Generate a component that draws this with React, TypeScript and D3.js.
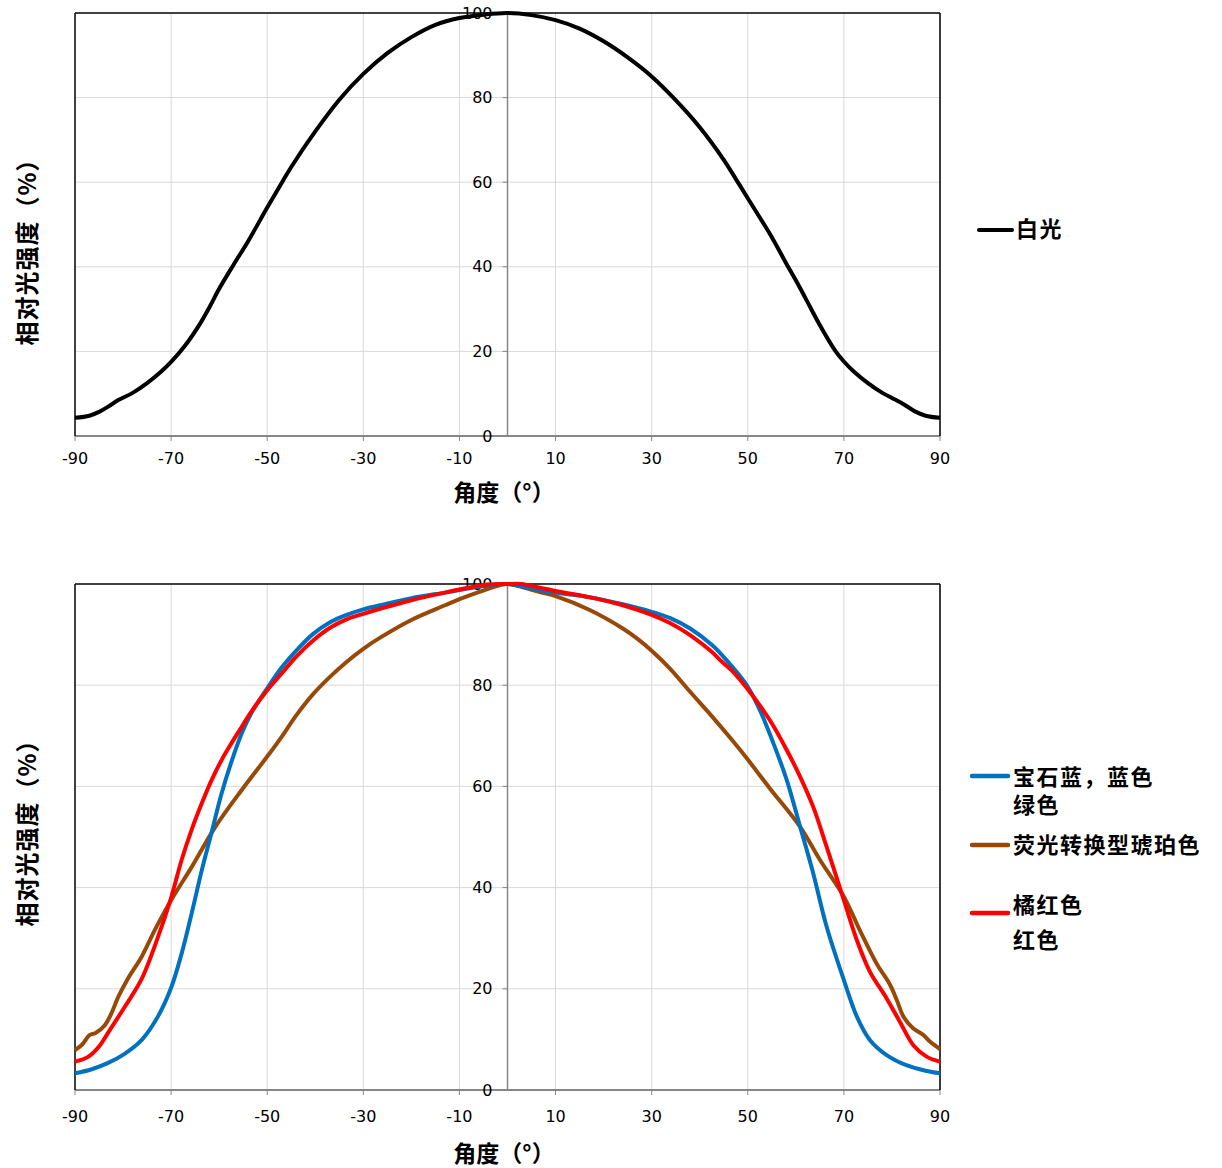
import React from "react";
import * as d3 from "d3";

// ---------- Data ----------
const xTicks = [-90, -70, -50, -30, -10, 10, 30, 50, 70, 90];
const yTicks = [0, 20, 40, 60, 80, 100];

// Top chart: white light
const whiteAngles = [-90, -87, -85, -83, -81, -78, -75, -72, -70, -67, -64, -62, -60, -57, -54, -50, -47, -45, -40, -35, -30, -25, -20, -15, -10, -5, 0, 5, 10, 15, 20, 25, 30, 35, 40, 45, 47.5, 50, 55, 58, 60, 62, 65, 68, 70, 72, 75, 78, 80, 82, 85, 87, 90];
const whiteValues = [4.3, 4.8, 5.7, 7.0, 8.5, 10.2, 12.5, 15.3, 17.5, 21.5, 26.5, 30.5, 34.8, 40.5, 46, 54, 59.8, 63.6, 72, 79.5, 85.6, 90.5, 94.3, 97.2, 98.8, 99.6, 100, 99.5, 98.3, 96.3, 93.3, 89.5, 85.0, 79.4, 73.0, 65.3, 60.8, 56.2, 47, 40.8, 36.8, 32.6, 26.2, 20.5, 17.6, 15.3, 12.5, 10.2, 9.0, 7.8, 5.7, 4.8, 4.3];

// Bottom chart
const blueAngles = [-90, -86.5, -83, -79.6, -76.1, -72.7, -70, -67.8, -65.7, -63.6, -61.6, -59.5, -57.4, -55.3, -53.3, -50, -47, -44, -40.5, -37, -33.5, -30, -26.5, -20, -13, -10, -5, 0, 6, 10, 17, 24, 30, 34, 38, 42.5, 44.2, 47, 50, 52.5, 55.3, 58.1, 60.9, 63.6, 66.4, 70, 72.7, 75.4, 78.9, 83, 87, 90];
const blueValues = [3.3, 4.1, 5.4, 7.2, 9.9, 14.6, 20.2, 27, 35, 43.5, 50.8, 58.6, 65, 70.5, 74.5, 79.4, 83.5, 86.8, 90.1, 92.4, 93.9, 95, 95.8, 97.2, 98.3, 98.8, 99.6, 100, 98.9, 98.3, 97.4, 96, 94.5, 93.2, 91.2, 88, 86.4, 83.4, 79.7, 75.1, 68.6, 61.3, 52, 42.9, 32.3, 21.7, 14.5, 9.9, 6.9, 4.9, 3.8, 3.3];

const amberAngles = [-90, -88.6, -86.9, -85.8, -83.8, -82.4, -81, -79, -76.1, -73.4, -70, -65.7, -60.8, -55.3, -50, -47, -44, -40.5, -37, -33.5, -30, -26.5, -20, -13, -10, -5.7, -1.5, 0, 3, 6.4, 10, 17, 24, 27, 30, 34, 38, 42.5, 46.6, 50, 54.6, 60.9, 65, 70, 73.3, 76.8, 79.6, 81, 82.4, 84.4, 86.5, 87.9, 90];
const amberValues = [7.9, 8.9, 10.9, 11.2, 12.8, 15.2, 18.4, 22, 26.4, 31.6, 37.5, 44.1, 52, 59.3, 65.9, 69.8, 74, 78.2, 81.6, 84.6, 87.2, 89.4, 92.9, 95.8, 97, 98.5, 99.8, 100, 99.4, 98.5, 97.6, 94.9, 91.2, 89.2, 86.8, 83.1, 78.7, 73.9, 69.3, 65.3, 59.6, 52, 45.5, 38.2, 31.6, 25, 20.8, 17.8, 14.5, 12.2, 10.9, 9.6, 8.1];

const redAngles = [-90, -87.2, -85, -83, -79.6, -76.1, -72.7, -70, -67.8, -65.7, -63.6, -61.6, -59.5, -57.4, -55.3, -53.3, -50, -47, -44, -40.5, -37, -33.5, -30, -26.5, -20, -13, -10, -5, 0, 3, 6, 10, 17, 24, 30, 34, 38, 42.5, 44.2, 47, 50, 52.5, 55.3, 58.1, 60.9, 63.6, 66.4, 70, 72.7, 75.4, 78.9, 81.7, 84.5, 87.2, 90];
const redValues = [5.6, 6.6, 8.6, 11.5, 16.5, 22, 30.3, 38, 45.5, 51.5, 56.7, 61.2, 65.2, 68.6, 71.8, 74.8, 79, 82.3, 85.6, 88.8, 91.3, 93, 94.1, 95.1, 96.8, 98.3, 98.9, 99.8, 100, 100, 99.4, 98.6, 97.4, 95.8, 93.9, 92.2, 89.9, 86.6, 85, 82.6, 79.2, 76, 72, 67.2, 61.9, 56, 48.1, 37.5, 29.6, 23.4, 18.1, 13.4, 8.8, 6.6, 5.6];

const yTitle = "相对光强度（%）";
const xTitle = "角度（°）";

type Series = { angles: number[]; values: number[]; color: string };

const topSeries: Series[] = [{ angles: whiteAngles, values: whiteValues, color: "#000000" }];
const bottomSeries: Series[] = [
  { angles: amberAngles, values: amberValues, color: "#984807" },
  { angles: blueAngles, values: blueValues, color: "#0070C0" },
  { angles: redAngles, values: redValues, color: "#FF0000" },
];

const TICK_FONT = "'DejaVu Sans', Verdana, sans-serif";
const CJK_FONT = "'Noto Sans CJK SC', 'Noto Sans', sans-serif";

function Chart({ top, bottom, series, xLabelDy, xTitleDy, strokeW, yTitleY }: { top: number; bottom: number; series: Series[]; xLabelDy: number; xTitleDy: number; strokeW: number; yTitleY: number }) {
  const left = 75, right = 940;
  const x = d3.scaleLinear().domain([-90, 90]).range([left, right]);
  const y = d3.scaleLinear().domain([0, 100]).range([bottom, top]);
  const x0 = x(0);
  const grid = "#d9d9d9";
  const axis = "#868686";
  const line = d3.line<[number, number]>().x(d => x(d[0])).y(d => y(d[1])).curve(d3.curveCatmullRom.alpha(0.5));
  return (
    <g>
      {xTicks.filter(t => t !== -90).map(t => (
        <line key={"gx" + t} x1={x(t)} x2={x(t)} y1={top} y2={bottom} stroke={grid} strokeWidth={1} />
      ))}
      {yTicks.filter(t => t !== 0 && t !== 100).map(t => (
        <line key={"gy" + t} x1={left} x2={right} y1={y(t)} y2={y(t)} stroke={grid} strokeWidth={1} />
      ))}
      {/* x axis */}
      <line x1={left} x2={right} y1={bottom} y2={bottom} stroke={axis} strokeWidth={2} />
      {xTicks.map(t => (
        <g key={"xt" + t}>
          <line x1={x(t)} x2={x(t)} y1={bottom} y2={bottom + 5} stroke={axis} strokeWidth={1} />
          <text x={x(t)} y={bottom + xLabelDy} textAnchor="middle" dominantBaseline="central" fontFamily={TICK_FONT} fontSize={16} fill="#000">{t}</text>
        </g>
      ))}
      {/* y axis at 0 */}
      <line x1={x0} x2={x0} y1={top} y2={bottom} stroke={axis} strokeWidth={1.5} />
      {yTicks.map(t => (
        <g key={"yt" + t}>
          <line x1={x0 - 5} x2={x0} y1={y(t)} y2={y(t)} stroke={axis} strokeWidth={1} />
          <text x={x0 - 15} y={y(t)} textAnchor="end" dominantBaseline="central" fontFamily={TICK_FONT} fontSize={16} fill="#000">{t}</text>
        </g>
      ))}
      {/* border */}
      <line x1={left} x2={right} y1={top} y2={top} stroke="#000" strokeWidth={1.5} />
      <line x1={left} x2={left} y1={top} y2={bottom} stroke="#000" strokeWidth={1.5} />
      <line x1={right} x2={right} y1={top} y2={bottom} stroke="#000" strokeWidth={1.5} />
      {series.map((s, i) => (
        <path key={"s" + i} d={line(s.angles.map((a, j) => [a, s.values[j]] as [number, number])) || ""} fill="none" stroke={s.color} strokeWidth={strokeW} strokeLinejoin="round" />
      ))}
      <text x={504} y={bottom + xTitleDy} textAnchor="middle" dominantBaseline="central" fontFamily={CJK_FONT} fontWeight="bold" fontSize={23} fill="#000">{xTitle}</text>
      <text transform={`translate(25,${yTitleY}) rotate(-90)`} textAnchor="middle" dominantBaseline="central" fontFamily={CJK_FONT} fontWeight="bold" fontSize={24} letterSpacing={1} fill="#000">{yTitle}</text>
    </g>
  );
}

function LegendItem({ x1, x2, ly, color, lines, ty, dy }: { x1: number; x2: number; ly: number; color: string; lines: string[]; ty: number; dy: number }) {
  return (
    <g>
      <line x1={x1} x2={x2} y1={ly} y2={ly} stroke={color} strokeWidth={4.5} strokeLinecap="round" />
      <text x={1013} y={ty} dominantBaseline="central" fontFamily={CJK_FONT} fontWeight="bold" fontSize={22} letterSpacing={1.5} fill="#000">
        {lines.map((l, i) => (
          <tspan key={i} x={1013} dy={i === 0 ? 0 : dy}>{l}</tspan>
        ))}
      </text>
    </g>
  );
}

export default function App() {
  return (
    <svg width={1222} height={1168} style={{ position: "absolute", left: 0, top: 0, background: "#fff" }}>
      <Chart top={13} bottom={436} series={topSeries} xLabelDy={22} xTitleDy={55} strokeW={4} yTitleY={246} />
      <Chart top={584} bottom={1090} series={bottomSeries} xLabelDy={26} xTitleDy={62} strokeW={4} yTitleY={827} />
      <g>
        <line x1={979} x2={1012} y1={230} y2={230} stroke="#000" strokeWidth={4} strokeLinecap="round" />
        <text x={1016} y={227} dominantBaseline="central" fontFamily={CJK_FONT} fontWeight="bold" fontSize={22} letterSpacing={1.5} fill="#000">白光</text>
      </g>
      <LegendItem x1={972} x2={1008} ly={776} color="#0070C0" lines={["宝石蓝，蓝色", "绿色"]} ty={775} dy={28} />
      <LegendItem x1={972} x2={1008} ly={845} color="#984807" lines={["荧光转换型琥珀色"]} ty={843} dy={28} />
      <LegendItem x1={972} x2={1008} ly={913} color="#FF0000" lines={["橘红色", "红色"]} ty={903} dy={35} />
    </svg>
  );
}
